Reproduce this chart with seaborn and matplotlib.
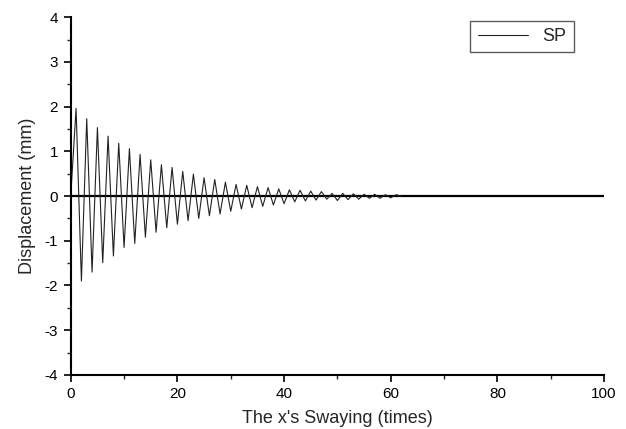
import matplotlib
matplotlib.use("Agg")
import matplotlib.pyplot as plt
import seaborn as sns
import pandas as pd
from matplotlib.ticker import MultipleLocator

# Data (sway count vs displacement)
sway = list(range(0, 63))
displacement = [
    0.00, 1.96, -1.90, 1.73, -1.70, 1.53, -1.49, 1.34, -1.34, 1.18,
    -1.15, 1.06, -1.06, 0.93, -0.92, 0.81, -0.81, 0.70, -0.71, 0.64,
    -0.63, 0.55, -0.55, 0.49, -0.50, 0.41, -0.44, 0.37, -0.40, 0.31,
    -0.34, 0.26, -0.29, 0.24, -0.26, 0.21, -0.23, 0.19, -0.20, 0.16,
    -0.17, 0.14, -0.13, 0.13, -0.11, 0.11, -0.09, 0.10, -0.07, 0.06,
    -0.10, 0.06, -0.08, 0.05, -0.07, 0.04, -0.05, 0.04, -0.05, 0.03,
    -0.04, 0.03, 0.00,
]
series_name = "SP"
x_label = "The x's Swaying (times)"
y_label = "Displacement (mm)"

df = pd.DataFrame({"x": sway, "y": displacement, "series": series_name})

sns.set_style("ticks")
plt.rcParams["font.family"] = ["Liberation Sans", "DejaVu Sans"]
plt.rcParams["axes.unicode_minus"] = False

fig = plt.figure(figsize=(6.26, 4.29), dpi=100)
ax = fig.add_axes([0.113, 0.126, 0.852, 0.834])

ax.axhline(0, color="black", lw=1.6, zorder=1)
sns.lineplot(data=df, x="x", y="y", hue="series", palette=["#222222"],
             linewidth=0.8, ax=ax, zorder=2)

ax.set_xlim(0, 100)
ax.set_ylim(-4, 4)
ax.xaxis.set_major_locator(MultipleLocator(20))
ax.xaxis.set_minor_locator(MultipleLocator(10))
ax.yaxis.set_major_locator(MultipleLocator(1))
ax.yaxis.set_minor_locator(MultipleLocator(0.5))
ax.tick_params(which="major", direction="out", length=5, width=1.2,
               labelsize=11, colors="black", pad=4)
ax.tick_params(which="minor", direction="out", length=3, width=1.0)
for s in ["top", "right"]:
    ax.spines[s].set_visible(False)
for s in ["left", "bottom"]:
    ax.spines[s].set_linewidth(1.5)
    ax.spines[s].set_color("black")

ax.set_xlabel(x_label, fontsize=13, labelpad=6)
ax.set_ylabel(y_label, fontsize=13, labelpad=6)

leg = ax.legend(loc="upper right", bbox_to_anchor=(0.96, 1.015), fontsize=13,
                frameon=True, fancybox=False, edgecolor="#333333",
                handlelength=2.8, borderpad=0.4)
leg.get_frame().set_linewidth(1.0)

fig.savefig("out.png", dpi=100)
